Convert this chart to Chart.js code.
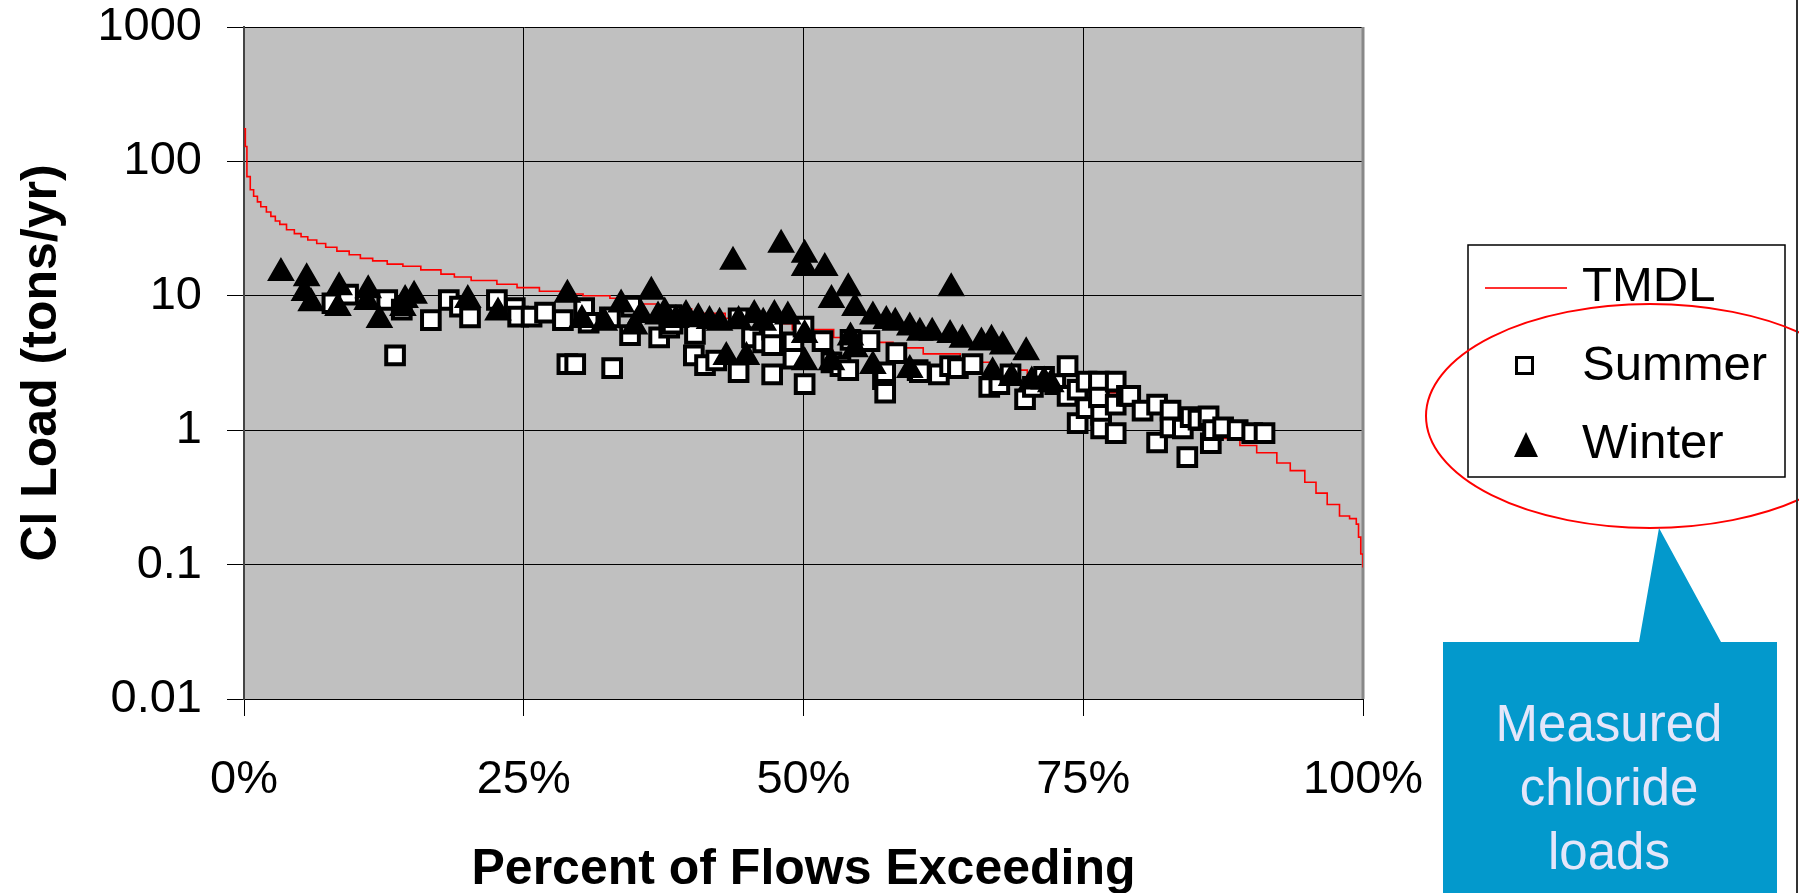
<!DOCTYPE html>
<html>
<head>
<meta charset="utf-8">
<title>Cl Load</title>
<script src="https://cdn.jsdelivr.net/npm/chart.js@4.4.1/dist/chart.umd.min.js"></script>
<style>
    body { margin: 0; background: #fff; }
    canvas { display: block; }
</style>
</head>
<body>
<canvas id="myChart" width="1799" height="893"></canvas>
<script>
// values
const tmdlPercent = [0, 0.12, 0.26, 0.56, 0.86, 1.2, 1.5, 2.0, 2.4, 2.8, 3.2, 3.8, 4.5, 5.1, 5.7, 6.5, 7.3, 8.3, 9.4, 10.4, 11.5, 12.8, 14.2, 15.8, 17.6, 18.8, 20.3, 22.6, 24.4, 26.4, 28.3, 30.3, 32.7, 34, 37, 40, 43, 46, 49, 52.7, 55, 58, 60.7, 64, 67, 70, 73, 75.6, 78, 80, 82, 84, 86, 87.6, 89, 90.5, 92.3, 93.5, 94.8, 95.8, 96.8, 97.9, 98.8, 99.4, 99.6, 99.8, 100]
const tmdlLoad = [175, 129, 77, 61.5, 55, 50, 46, 42, 39, 36, 34, 31, 29, 27.5, 26, 24.5, 23, 21.5, 20.2, 19, 18.2, 17.2, 16.6, 15.6, 14.5, 13.8, 13.0, 12.2, 11.5, 10.8, 10.3, 10.0, 9.6, 8.7, 8.0, 7.4, 6.8, 6.2, 5.6, 4.9, 4.5, 4.1, 3.7, 3.2, 2.8, 2.45, 2.15, 1.9, 1.6, 1.4, 1.25, 1.1, 0.97, 0.87, 0.77, 0.68, 0.57, 0.5, 0.41, 0.34, 0.28, 0.23, 0.22, 0.2, 0.16, 0.12, 0.095]

const summerPercent = [7.9, 9.3, 12.8, 13.5, 14.1, 16.7, 18.3, 19.3, 20.2, 22.6, 24.2, 24.5, 25.7, 26.9, 28.5, 28.9, 29.6, 30.4, 30.8, 32.7, 32.9, 34.5, 34.6, 37.1, 38.0, 38.3, 38.2, 40.3, 40.2, 41.2, 42.2, 44.2, 44.2, 45.4, 46.4, 47.2, 47.2, 47.2, 49.1, 49.1, 50.0, 50.1, 51.7, 52.5, 53.3, 54.0, 54.2, 55.9, 57.1, 57.3, 57.3, 58.3, 60.2, 60.4, 62.1, 63.1, 63.8, 65.1, 66.6, 67.5, 68.5, 69.8, 70.5, 71.5, 72.5, 73.6, 73.6, 74.5, 74.5, 75.3, 75.3, 76.4, 76.4, 76.6, 76.6, 77.9, 77.9, 77.9, 78.9, 79.2, 80.3, 81.6, 81.6, 82.8, 82.8, 83.9, 84.3, 84.6, 85.3, 86.2, 86.4, 86.6, 87.5, 88.8, 90.1, 91.2]
const summerLoad = [8.8, 10.2, 9.3, 3.6, 7.9, 6.6, 9.3, 8.3, 6.9, 9.3, 8.1, 7.0, 7.0, 7.5, 6.6, 3.1, 3.1, 8.1, 6.3, 6.9, 2.9, 5.1, 8.3, 4.9, 5.8, 6.2, 7.2, 5.2, 3.6, 3.05, 3.3, 6.8, 2.7, 4.9, 4.5, 5.6, 4.3, 2.6, 4.5, 3.4, 5.9, 2.2, 4.6, 3.2, 3.0, 2.8, 4.7, 4.6, 2.4, 2.7, 1.9, 3.75, 2.8, 2.7, 2.6, 3.0, 2.9, 3.1, 2.1, 2.2, 2.6, 1.7, 2.1, 2.5, 2.2, 3.0, 1.8, 2.0, 1.13, 2.3, 1.46, 2.3, 1.75, 1.3, 1.03, 2.3, 1.55, 0.95, 1.8, 1.8, 1.4, 1.55, 0.81, 1.4, 1.05, 1.03, 0.63, 1.25, 1.2, 1.27, 0.8, 1.0, 1.05, 1.0, 0.95, 0.95]

const winterPercent = [3.3, 5.6, 5.4, 6.0, 8.5, 8.4, 11.1, 11.0, 12.1, 14.4, 15.2, 14.2, 20.0, 22.7, 28.9, 30.2, 32.2, 33.7, 34.9, 35.5, 36.4, 37.0, 37.6, 38.6, 39.5, 40.6, 41.6, 42.5, 43.1, 43.7, 44.9, 44.2, 45.6, 46.4, 47.4, 48.0, 48.6, 50.1, 50.1, 50.1, 50.1, 51.9, 52.5, 52.5, 54.0, 54.6, 54.2, 54.6, 56.2, 56.2, 57.4, 58.2, 59.5, 59.5, 60.4, 61.5, 63.1, 63.2, 64.2, 65.9, 66.8, 67.8, 66.9, 68.6, 69.9, 70.4, 71.5, 72.1]
const winterLoad = [14.8, 13.5, 10.5, 8.8, 11.6, 8.1, 11.0, 9.0, 6.6, 9.3, 10.0, 8.1, 9.3, 7.5, 10.2, 6.6, 6.3, 8.6, 5.9, 7.2, 10.7, 7.0, 7.5, 6.6, 7.2, 6.8, 6.5, 6.3, 3.5, 17.9, 3.5, 6.5, 7.2, 6.3, 7.2, 24, 7.0, 20.2, 16.1, 5.1, 3.2, 16.1, 9.3, 3.2, 11.4, 8.1, 4.9, 4.0, 7.0, 3.0, 6.5, 6.3, 5.8, 2.8, 5.3, 5.3, 5.1, 11.4, 4.7, 4.5, 4.7, 4.2, 2.7, 2.45, 3.8, 2.3, 2.3, 2.2]

const xTickValues = [0, 25, 50, 75, 100]
const yTickValues = [0.01, 0.1, 1, 10, 100, 1000]
const seriesNames = ['TMDL', 'Summer', 'Winter']
const calloutLines = ['Measured', 'chloride', 'loads']

const ctx = document.getElementById('myChart')
const fontFamily = "'Liberation Sans', Arial, sans-serif"

const toPoints = (xs, ys) => xs.map((x, i) => ({ x: x, y: ys[i] }))

const plotBackground = {
    id: 'plotBackground',
    beforeDraw: (chart) => {
        const { ctx, chartArea } = chart
        ctx.save()
        ctx.fillStyle = '#c0c0c0'
        ctx.fillRect(chartArea.left, chartArea.top, chartArea.right - chartArea.left, chartArea.bottom - chartArea.top)
        ctx.restore()
    },
    beforeDatasetsDraw: (chart) => {
        // grey right edge of the plot area
        const { ctx, chartArea } = chart
        ctx.save()
        ctx.strokeStyle = '#888888'
        ctx.lineWidth = 3
        ctx.beginPath()
        ctx.moveTo(chartArea.right, chartArea.top)
        ctx.lineTo(chartArea.right, chartArea.bottom)
        ctx.stroke()
        ctx.restore()
    }
}

const drawLegend = (c) => {
    c.save()
    c.fillStyle = '#ffffff'
    c.fillRect(1468, 245, 317, 232)
    c.strokeStyle = '#000000'
    c.lineWidth = 1.5
    c.strokeRect(1468, 245, 317, 232)

    // TMDL line
    c.strokeStyle = '#ff3030'
    c.lineWidth = 2
    c.beginPath()
    c.moveTo(1485, 288)
    c.lineTo(1567, 288)
    c.stroke()

    // summer square
    c.fillStyle = '#ffffff'
    c.strokeStyle = '#000000'
    c.lineWidth = 3
    c.fillRect(1516.5, 357.5, 16, 16)
    c.strokeRect(1516.5, 357.5, 16, 16)

    // winter triangle
    c.fillStyle = '#000000'
    c.beginPath()
    c.moveTo(1526, 432)
    c.lineTo(1538, 457)
    c.lineTo(1514, 457)
    c.closePath()
    c.fill()

    c.fillStyle = '#000000'
    c.font = '49px ' + fontFamily
    c.textAlign = 'left'
    c.textBaseline = 'middle'
    c.fillText(seriesNames[0], 1582, 287)
    c.fillText(seriesNames[1], 1582, 366)
    c.fillText(seriesNames[2], 1582, 444)
    c.restore()
}

const drawCallout = (c) => {
    c.save()
    // red ellipse round the measured series
    c.strokeStyle = '#ff0000'
    c.lineWidth = 2
    c.beginPath()
    c.ellipse(1650, 416, 224, 112, 0, 0, Math.PI * 2)
    c.stroke()

    // blue box with pointer
    c.fillStyle = '#0399cc'
    c.beginPath()
    c.moveTo(1443, 642)
    c.lineTo(1639, 642)
    c.lineTo(1659, 528)
    c.lineTo(1721, 642)
    c.lineTo(1777, 642)
    c.lineTo(1777, 893)
    c.lineTo(1443, 893)
    c.closePath()
    c.fill()

    c.fillStyle = '#e4e6fa'
    c.font = '51px ' + fontFamily
    c.textAlign = 'center'
    c.textBaseline = 'alphabetic'
    calloutLines.forEach((line, i) => {
        c.fillText(line, 1609, 741 + i * 64)
    })

    // frame line on the far right
    c.strokeStyle = '#333333'
    c.lineWidth = 2
    c.beginPath()
    c.moveTo(1797, 0)
    c.lineTo(1797, 893)
    c.stroke()
    c.restore()
}

const annotations = {
    id: 'annotations',
    afterDraw: (chart) => {
        drawLegend(chart.ctx)
        drawCallout(chart.ctx)
    }
}

const config = {
    type: 'scatter',
    data: {
        datasets: [
            {
                label: seriesNames[2],
                data: toPoints(winterPercent, winterLoad),
                pointStyle: 'triangle',
                pointRadius: 14,
                backgroundColor: '#000000',
                borderColor: '#000000',
                borderWidth: 2,
                order: 1,
            },
            {
                label: seriesNames[1],
                data: toPoints(summerPercent, summerLoad),
                pointStyle: 'rect',
                pointRadius: 12.5,
                backgroundColor: '#ffffff',
                borderColor: '#000000',
                borderWidth: 4,
                order: 2,
            },
            {
                label: seriesNames[0],
                data: toPoints(tmdlPercent, tmdlLoad),
                showLine: true,
                stepped: true,
                pointRadius: 0,
                borderColor: '#ff0000',
                borderWidth: 1.6,
                order: 3,
            },
        ],
    },
    options: {
        responsive: false,
        animation: false,
        devicePixelRatio: 1,
        layout: {
            padding: { left: 0, top: 27, right: 436, bottom: 0 },
        },
        plugins: {
            legend: { display: false },
            tooltip: { enabled: false },
        },
        scales: {
            x: {
                type: 'linear',
                min: 0,
                max: 100,
                afterBuildTicks: (scale) => {
                    scale.ticks = xTickValues.map((v) => ({ value: v }))
                },
                afterFit: (scale) => {
                    scale.height = 194
                    scale.paddingLeft = 0
                    scale.paddingRight = 0
                },
                ticks: {
                    color: '#000000',
                    padding: 38,
                    maxRotation: 0,
                    font: { family: fontFamily, size: 47, lineHeight: 1.1 },
                    callback: (v) => v + '%',
                },
                grid: {
                    color: '#000000',
                    lineWidth: 1,
                    tickLength: 17,
                },
                border: { color: '#000000', width: 1 },
                title: {
                    display: true,
                    text: 'Percent of Flows Exceeding',
                    color: '#000000',
                    padding: { top: 0, bottom: 0 },
                    font: { family: fontFamily, size: 50, weight: 'bold', lineHeight: 0.9 },
                },
            },
            y: {
                type: 'logarithmic',
                min: 0.01,
                max: 1000,
                afterBuildTicks: (scale) => {
                    scale.ticks = yTickValues.map((v) => ({ value: v }))
                },
                afterFit: (scale) => {
                    scale.width = 244
                    scale.paddingTop = 0
                    scale.paddingBottom = 0
                },
                ticks: {
                    color: '#000000',
                    padding: 25,
                    font: { family: fontFamily, size: 47, lineHeight: 1.1 },
                    callback: (v) => String(v),
                },
                grid: {
                    color: '#000000',
                    lineWidth: 1,
                    tickLength: 17,
                },
                border: { color: '#444444', width: 2 },
                title: {
                    display: true,
                    text: 'Cl Load (tons/yr)',
                    color: '#000000',
                    padding: { top: 17, bottom: 0 },
                    font: { family: fontFamily, size: 50, weight: 'bold', lineHeight: 1 },
                },
            },
        },
    },
    plugins: [plotBackground, annotations],
}

const myChart = new Chart(ctx, config)
</script>
</body>
</html>
